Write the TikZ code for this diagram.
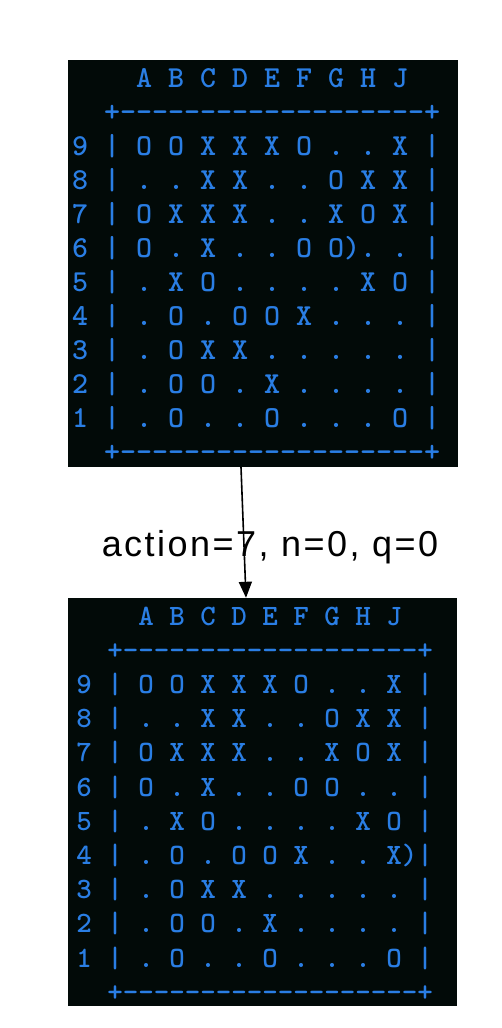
\documentclass[tikz,border=0pt]{standalone}
\usepackage{fontspec}
\usepackage{tikz}
\usetikzlibrary{arrows.meta}
\newfontfamily\labelfont{Liberation Sans}[LetterSpace=6.9]
\definecolor{boardbg}{RGB}{2,10,8}
\definecolor{boardfg}{RGB}{42,126,228}
\frenchspacing

\begin{document}
\begin{tikzpicture}[x=1pt, y=-1pt,
	board/.style={draw=none, fill=boardbg, rectangle, inner sep=0pt},
	cells/.style={text=boardfg, inner sep=0pt, anchor=base west, font=\ttfamily\bfseries\fontsize{#1}{#1}\selectfont},
	edge/.style={line width=1.6pt, -{Triangle[length=16pt, width=13pt]}},
	elabel/.style={font=\labelfont\fontsize{36}{36}\selectfont, inner sep=0pt, anchor=base}]
	\useasboundingbox (0,0) rectangle (502,1028);
	\node[board, minimum width=390, minimum height=407] (S) at (263, 263.5) {};
	\node[board, minimum width=389, minimum height=408] (T) at (262.5, 802) {};
	\node[cells=30.48] (Shead) at (136, 87) {A B C D E F G H J};
	\node[cells=30.48] (Stop) at (104, 121) {+-{}-{}-{}-{}-{}-{}-{}-{}-{}-{}-{}-{}-{}-{}-{}-{}-{}-{}-+};
	\node[cells=30.48] (S9) at (72, 155) {9 | O O X X X O . . X |};
	\node[cells=30.48] (S8) at (72, 189) {8 | . . X X . . O X X |};
	\node[cells=30.48] (S7) at (72, 223) {7 | O X X X . . X O X |};
	\node[cells=30.48] (S6) at (72, 257) {6 | O . X . . O O). . |};
	\node[cells=30.48] (S5) at (72, 291) {5 | . X O . . . . X O |};
	\node[cells=30.48] (S4) at (72, 325) {4 | . O . O O X . . . |};
	\node[cells=30.48] (S3) at (72, 359) {3 | . O X X . . . . . |};
	\node[cells=30.48] (S2) at (72, 393) {2 | . O O . X . . . . |};
	\node[cells=30.48] (S1) at (72, 427) {1 | . O . . O . . . O |};
	\node[cells=30.48] (Sbot) at (104, 461) {+-{}-{}-{}-{}-{}-{}-{}-{}-{}-{}-{}-{}-{}-{}-{}-{}-{}-{}-+};
	\node[cells=29.52] (Thead) at (138.25, 625) {A B C D E F G H J};
	\node[cells=29.52] (Ttop) at (107.25, 659.2) {+-{}-{}-{}-{}-{}-{}-{}-{}-{}-{}-{}-{}-{}-{}-{}-{}-{}-{}-+};
	\node[cells=29.52] (T9) at (76.25, 693.4) {9 | O O X X X O . . X |};
	\node[cells=29.52] (T8) at (76.25, 727.6) {8 | . . X X . . O X X |};
	\node[cells=29.52] (T7) at (76.25, 761.8) {7 | O X X X . . X O X |};
	\node[cells=29.52] (T6) at (76.25, 796) {6 | O . X . . O O . . |};
	\node[cells=29.52] (T5) at (76.25, 830.2) {5 | . X O . . . . X O |};
	\node[cells=29.52] (T4) at (76.25, 864.4) {4 | . O . O O X . . X)|};
	\node[cells=29.52] (T3) at (76.25, 898.6) {3 | . O X X . . . . . |};
	\node[cells=29.52] (T2) at (76.25, 932.8) {2 | . O O . X . . . . |};
	\node[cells=29.52] (T1) at (76.25, 967) {1 | . O . . O . . . O |};
	\node[cells=29.52] (Tbot) at (107.25, 1001.2) {+-{}-{}-{}-{}-{}-{}-{}-{}-{}-{}-{}-{}-{}-{}-{}-{}-{}-{}-+};
	\draw[edge] ([xshift=-22pt]S.south) -- node[elabel, pos=0.687, xshift=25.6pt] {action=7, n=0, q=0} ([xshift=-16.5pt]T.north);
\end{tikzpicture}
\end{document}
